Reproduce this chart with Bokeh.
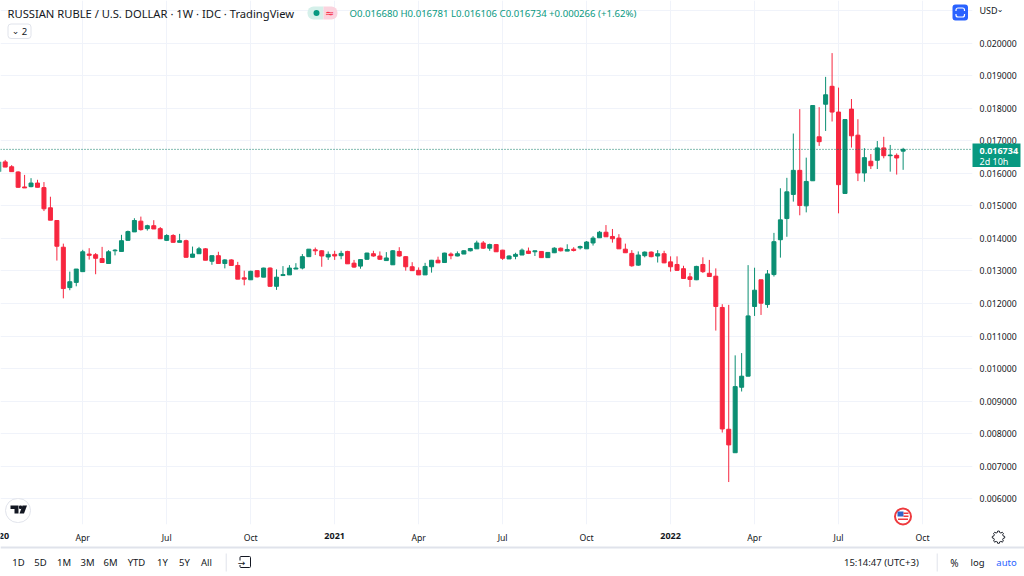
from bokeh.plotting import figure
from bokeh.embed import file_html
from bokeh.layouts import column
from bokeh.resources import INLINE
from bokeh.models import (ColumnDataSource, FixedTicker, Grid, LinearAxis, Label, BoxAnnotation,
                          PolyAnnotation, Span, Range1d)
import math

# weekly candles, values in thousandths of a dollar per ruble; the week number runs from -1
weeks = list(range(-1, 140))
open_ = [16.05,16.35,16.20,16.04,15.58,15.59,15.70,15.56,14.94,14.55,13.73,12.49,12.65,12.98,13.52,13.50,13.38,13.23,13.62,13.60,13.94,14.20,14.53,14.30,14.39,14.30,13.94,14.09,13.88,13.93,13.42,13.53,13.68,13.30,13.47,13.23,13.34,13.17,12.79,12.73,13.01,
         12.81,13.09,12.53,12.86,12.88,13.06,13.09,13.44,13.65,13.62,13.43,13.51,13.47,13.60,13.24,13.15,13.36,13.53,13.46,13.32,13.19,13.60,13.44,13.13,13.02,12.88,13.13,13.33,13.26,13.52,13.46,13.52,13.62,13.68,
         13.86,13.70,13.81,13.64,13.37,13.45,13.49,13.61,13.59,13.60,13.41,13.56,13.70,13.61,13.67,13.71,13.68,13.86,14.02,14.19,14.06,14.01,13.67,13.54,13.18,13.47,13.58,13.46,13.53,13.28,13.20,13.07,12.82,
         12.73,13.20,12.93,12.84,11.88,8.14,7.42,9.43,9.77,11.91,12.73,11.97,12.89,13.96,14.61,15.35,16.09,15.00,15.77,17.12,18.12,18.67,17.88,15.38,17.97,17.17,16.01,16.37,16.40,16.78,16.54,16.55,16.680]
high = [16.41,16.41,16.25,16.06,15.95,15.85,15.80,15.73,15.28,14.55,13.84,12.98,13.06,13.65,13.70,13.55,13.74,13.64,13.67,14.11,14.24,14.62,14.67,14.42,14.56,14.35,14.13,14.13,14.14,13.96,13.75,13.74,13.70,13.47,13.59,13.36,13.36,13.28,13.01,13.01,13.02,
        13.10,13.11,13.05,13.15,13.18,13.24,13.52,13.67,13.72,13.64,13.60,13.62,13.62,13.62,13.34,13.36,13.56,13.62,13.60,13.58,13.64,13.73,13.45,13.27,13.11,13.25,13.34,13.44,13.56,13.57,13.60,13.64,13.71,13.93,
        13.92,13.84,13.83,13.65,13.48,13.56,13.69,13.72,13.62,13.61,13.57,13.73,13.72,13.82,13.73,13.78,13.92,14.07,14.23,14.41,14.29,14.13,13.84,13.64,13.60,13.60,13.60,13.64,13.62,13.45,13.45,13.16,12.94,
        13.16,13.42,13.34,13.08,11.98,11.96,10.41,10.48,13.18,13.10,12.73,13.03,14.17,15.54,15.86,17.22,17.97,16.48,18.08,18.03,18.96,19.69,18.63,17.65,18.28,17.66,16.77,16.59,16.99,17.12,16.87,16.61,16.781]
low = [16.05,16.19,16.05,15.56,15.55,15.57,15.57,14.84,14.56,13.32,12.16,12.41,12.53,12.98,13.35,12.90,13.26,13.23,13.48,13.60,13.94,14.20,14.24,14.24,14.29,13.99,13.92,13.88,13.88,13.42,13.42,13.53,13.33,13.19,13.23,13.08,13.17,12.75,12.56,12.73,12.80,
       12.81,12.52,12.42,12.86,12.88,13.06,13.05,13.44,13.49,13.13,13.34,13.34,13.36,13.22,13.10,13.07,13.35,13.44,13.34,13.32,13.19,13.44,13.01,13.00,12.88,12.88,12.95,13.25,13.26,13.36,13.45,13.52,13.60,13.68,
       13.68,13.62,13.59,13.34,13.37,13.36,13.49,13.52,13.46,13.41,13.41,13.55,13.60,13.61,13.60,13.66,13.68,13.78,14.02,14.05,13.87,13.68,13.56,13.13,13.16,13.42,13.42,13.26,13.24,12.98,13.00,12.77,12.51,
       12.72,12.94,12.83,11.17,8.04,6.52,7.42,9.30,9.77,11.62,11.65,11.87,12.83,13.41,14.05,15.13,14.71,14.80,15.77,16.84,17.30,17.59,14.77,15.38,16.79,15.76,15.74,16.13,16.13,16.46,16.05,15.96,16.106]
close_ = [16.35,16.19,16.05,15.57,15.55,15.70,15.57,14.91,14.56,13.76,12.46,12.67,13.06,13.59,13.48,13.39,13.26,13.59,13.64,13.93,14.21,14.55,14.27,14.39,14.29,13.99,14.09,13.88,13.93,13.42,13.52,13.68,13.33,13.47,13.23,13.34,13.17,12.75,12.75,12.99,12.82,
          13.09,12.53,12.81,12.89,13.09,13.09,13.44,13.67,13.62,13.46,13.51,13.46,13.54,13.22,13.12,13.35,13.55,13.46,13.36,13.40,13.62,13.46,13.13,13.01,12.88,13.14,13.33,13.25,13.55,13.47,13.53,13.62,13.69,13.86,
          13.70,13.81,13.59,13.39,13.46,13.51,13.64,13.54,13.62,13.41,13.57,13.70,13.62,13.66,13.63,13.75,13.89,14.01,14.19,14.05,13.99,13.68,13.56,13.16,13.49,13.58,13.44,13.53,13.25,13.13,13.02,12.77,12.74,
          13.14,12.98,12.83,11.91,8.15,7.66,9.45,9.77,11.62,12.41,12.01,12.91,13.90,14.57,15.43,16.09,15.01,15.75,18.08,16.97,18.41,17.88,15.65,17.65,17.15,16.01,16.48,16.23,16.78,16.54,16.56,16.47,16.734]
last_price = 0.016734

month_ticks = [12, 25, 38, 51, 64, 77, 90, 103, 116, 129, 142]
month_labels = ["Apr", "Jul", "Oct", "", "Apr", "Jul", "Oct", "", "Apr", "Jul", "Oct"]
year_ticks = [-1, 51, 103]
year_labels = ["2020", "2021", "2022"]
price_ticks = [0.006, 0.007, 0.008, 0.009, 0.010, 0.011, 0.012, 0.013, 0.014, 0.015, 0.016, 0.017, 0.018, 0.019, 0.020]
price_grid = price_ticks + [0.021]
ranges = ["1D", "5D", "1M", "3M", "6M", "YTD", "1Y", "5Y", "All"]
range_px = [18, 40, 63.5, 87, 110, 136, 162, 184, 206]

UP, DOWN, GRID, TXT = "#0B8F73", "#F7263F", "#F0F3FA", "#131722"
TAG = "#089981"
FONT = "Noto Sans"

FW, FH = 972, 524
def fx(px): return (px - 4.7) / 6.46
def fy(py): return 0.020 - (py - 42.5) / 32570

p = figure(frame_width=FW, frame_height=FH, output_backend="svg", toolbar_location=None,
           x_range=Range1d(fx(0), fx(FW)), y_range=Range1d(fy(FH), fy(0)),
           x_axis_location=None, y_axis_location=None,
           min_border_left=0, min_border_right=1024 - FW, min_border_top=0, min_border_bottom=576 - FH)
p.margin = (0, 0, 0, 0)
p.frame_align = False
p.outline_line_color = None
p.background_fill_color = "white"
p.xgrid.visible = False
p.ygrid.visible = False

ax = LinearAxis(ticker=FixedTicker(ticks=month_ticks),
                major_label_overrides=dict(zip(month_ticks, month_labels)))
ay = LinearAxis(ticker=FixedTicker(ticks=price_ticks),
                major_label_overrides={t: f"{t:.6f}" for t in price_ticks})
for a in (ax, ay):
    a.axis_line_color = None
    a.major_tick_line_color = None
    a.minor_tick_line_color = None
    a.major_tick_out = 0
    a.major_tick_in = 0
    a.major_label_text_font = FONT
    a.major_label_text_font_size = "8.7px"
    a.major_label_text_color = TXT
ax.major_label_standoff = 7
ay.major_label_standoff = 7
p.add_layout(ax, "below")
p.add_layout(ay, "right")
p.add_layout(Grid(dimension=0, ticker=FixedTicker(ticks=month_ticks), grid_line_color=GRID, grid_line_width=1))
p.add_layout(Grid(dimension=1, ticker=FixedTicker(ticks=price_grid), grid_line_color=GRID, grid_line_width=1))

o = [v / 1000 for v in open_]; h = [v / 1000 for v in high]
l = [v / 1000 for v in low]; c = [v / 1000 for v in close_]
colors = [UP if b >= a else DOWN for a, b in zip(o, c)]
src = ColumnDataSource(dict(x=weeks, o=o, h=h, l=l, c=c, color=colors,
                            top=[max(a, b) for a, b in zip(o, c)],
                            bottom=[min(a, b) for a, b in zip(o, c)]))
p.segment("x", "h", "x", "l", source=src, color="color", line_width=1)
p.vbar("x", width=0.62, top="top", bottom="bottom", source=src, fill_color="color", line_color="color", line_width=1)

p.add_layout(Span(location=last_price, dimension="width", line_color="#067A63", line_dash="1 2", line_width=1))

# a transparent sheet over the whole page for the interface around the chart, in page pixels
q = figure(width=1024, height=576, output_backend="svg", toolbar_location=None,
           x_range=Range1d(0, 1024), y_range=Range1d(576, 0),
           x_axis_location=None, y_axis_location=None,
           min_border_left=0, min_border_right=0, min_border_top=0, min_border_bottom=0)
q.margin = (-576, 0, 0, 0)
q.frame_align = False
q.outline_line_color = None
q.background_fill_color = None
q.border_fill_color = None
q.xgrid.visible = False
q.ygrid.visible = False

def text(px, py, s, size=9, color=TXT, align="left", style="normal", font=FONT):
    q.add_layout(Label(x=px, y=py, text=s, text_font=font, text_font_size=f"{size}px", text_color=color,
                       text_align=align, text_baseline="middle", text_font_style=style))
def box(x0, y0, x1, y1, fill=None, line=None, r=0, lw=1):
    q.add_layout(BoxAnnotation(left=x0, right=x1, top=y0, bottom=y1,
                               fill_color=fill, fill_alpha=1 if fill else 0,
                               line_color=line, line_alpha=1 if line else 0, line_width=lw, border_radius=r))
def poly(pts, fill=None, line=None, lw=1):
    q.add_layout(PolyAnnotation(xs=[a for a, b in pts], ys=[b for a, b in pts],
                                fill_color=fill, fill_alpha=1 if fill else 0,
                                line_color=line, line_alpha=1 if line else 0, line_width=lw))

# years, in bold on the time axis
for k, s in zip(year_ticks, year_labels):
    text(4.7 + 6.46 * k, 535.5, s, size=9, align="center", style="bold")

# header
text(7, 12.5, "RUSSIAN RUBLE / U.S. DOLLAR · 1W · IDC · TradingView", size=11.2)
box(307, 6, 323, 19, fill="#D5F0EA", r=(6, 0, 0, 6))
box(323, 6, 337, 19, fill="#FBD3DE", r=(0, 6, 6, 0))
box(313, 9.5, 319, 15.5, fill=TAG, r=3)
text(329, 12.5, "≈", size=11, color=DOWN, align="center", font="DejaVu Sans")
ohlc_x = 349
text(ohlc_x, 13, "O0.016680 H0.016781 L0.016106 C0.016734 +0.000266 (+1.62%)", size=9.6, color=TAG)
box(7.5, 23.5, 30.5, 38, fill="white", line="#E0E3EB", r=3)
text(15, 30, "⌄", size=9, align="center", font="DejaVu Sans")
text(24, 30.5, "2", size=9.5, align="center")

# top right
box(952, 4, 967.5, 20, fill="#2962FF", r=3)
box(955.5, 7.5, 964, 16.5, line="white", r=2, lw=1.2)
box(954, 10.5, 966, 13.5, fill="#2962FF")
text(979, 9.5, "USD", size=9)
text(999.5, 8.5, "⌄", size=8, align="center", font="DejaVu Sans")

# last price tag
box(972, 143, 1020, 166.5, fill=TAG)
text(979, 150, "0.016734", size=9, color="white", style="bold")
text(979, 160.5, "2d 10h", size=9, color="white")

# logo
box(5, 498, 30, 522, fill="white", line="#E0E3EB", r=12)
poly([(10, 505), (18, 505), (18, 513), (14, 513), (14, 508.5), (10, 508.5)], fill=TXT)
box(18.5, 505, 21.5, 508.5, fill=TXT, r=1)
poly([(22, 505), (26.5, 505), (23.5, 513), (19, 513)], fill=TXT)

# flag
box(894.5, 508, 910.5, 524, fill="white", line="#EE3A3E", r=8, lw=2)
box(897, 511, 903, 516, fill="#2F62C9")
box(903, 512, 908, 513.5, fill="#EE3A3E")
box(903, 515, 908, 516.5, fill="#EE3A3E")
box(897.5, 518, 907.5, 519.5, fill="#EE3A3E")

# gear
gear = []
for i in range(48):
    rr = 6.2 if (i % 6) in (0, 1, 5) else 4.8
    gear.append((998 + rr * math.cos(i * math.pi / 24), 536.7 + rr * math.sin(i * math.pi / 24)))
poly(gear, fill="white", line=TXT, lw=1)

# bottom bar
box(0, 546, 1024, 548, fill="#E0E3EB")
for s, x in zip(ranges, range_px):
    text(x, 562, s, size=9.5, align="center")
box(225.2, 553, 226.2, 571, fill="#E0E3EB")
box(239.5, 556, 250, 567, line=TXT, r=1)
box(236, 560, 244, 564.5, fill="white")
text(241, 562, "→", size=9, align="center", font="DejaVu Sans")
box(936.2, 553, 937.2, 571, fill="#E0E3EB")
text(843.5, 562, "15:14:47 (UTC+3)", size=9.5)
text(954, 562, "%", size=10, align="center")
text(977, 562, "log", size=9.5, align="center")
text(1006, 562, "auto", size=9.5, color="#2962FF", align="center")

page = column(p, q, spacing=0, margin=(0, 0, 0, 0))
open("out.html", "w").write(file_html(page, INLINE))
